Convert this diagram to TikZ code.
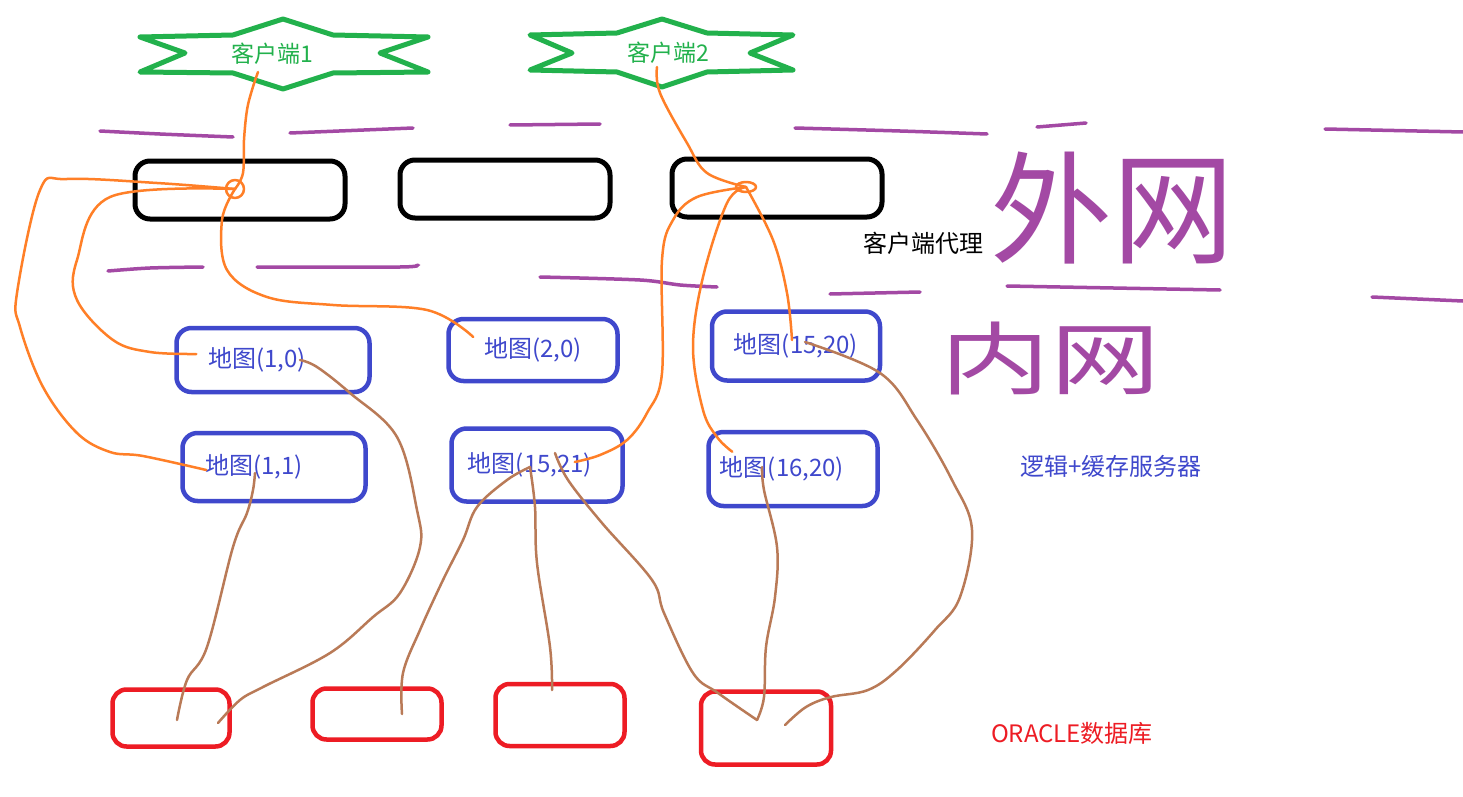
\documentclass[tikz,border=0pt]{standalone}
\usepackage{fontspec}
\setmainfont{Noto Sans CJK SC}
\usepackage{graphicx}
\usepackage{tikz}
\usetikzlibrary{positioning}
\definecolor{SketchGreen}{HTML}{22B14C}
\definecolor{SketchPurple}{HTML}{A349A4}
\definecolor{SketchOrange}{HTML}{FF7F27}
\definecolor{SketchBlue}{HTML}{3F48CC}
\definecolor{SketchRed}{HTML}{ED1C24}
\definecolor{SketchBrown}{HTML}{B97A57}

\begin{document}
\begin{tikzpicture}[
  x=1pt,y=-1pt,
  clientname/.style={text=SketchGreen,font=\fontsize{23}{27}\selectfont,inner sep=2pt},
  starline/.style={draw=SketchGreen,line width=5pt,line join=round},
  proxybox/.style={draw=black,line width=5pt,rounded corners=15pt,minimum width=210pt,minimum height=58pt},
  tile/.style={draw=SketchBlue,line width=4.5pt,rounded corners=15pt,text=SketchBlue,font=\fontsize{24}{28}\selectfont},
  dbbox/.style={draw=SketchRed,line width=4.5pt,rounded corners=14pt},
  note/.style={font=\fontsize{24}{28}\selectfont,inner sep=1pt},
  wire/.style={draw=SketchOrange,line width=2.5pt,line cap=round,line join=round},
  feed/.style={draw=SketchBrown,line width=2.5pt,line cap=round,line join=round},
  divider/.style={draw=SketchPurple,line width=3.5pt,line cap=round}
]
\fill[white] (0,0) rectangle (1463,797);
\useasboundingbox (0,0) rectangle (1463,797);

% clients
\node[clientname] (c1) at (272,54) {客户端1};
\node[clientname] (c2) at (668,53) {客户端2};
\draw[starline] ([xshift=11pt]c1.center) ++(0,-35) -- ++(50,16) -- ++(95,2) -- ++(-48,16) -- ++(48,19) -- ++(-95,1)
  -- ++(-50,16) -- ++(-50,-16) -- ++(-93,-1) -- ++(45,-19) -- ++(-45,-16) -- ++(93,-2) -- cycle;
\draw[starline] ([xshift=-6pt]c2.center) ++(0,-34) -- ++(45,14) -- ++(86,2) -- ++(-43,18) -- ++(43,17) -- ++(-86,2)
  -- ++(-45,15) -- ++(-45,-15) -- ++(-87,-2) -- ++(42,-17) -- ++(-42,-18) -- ++(87,-2) -- cycle;

% network borders
\draw[divider] plot[smooth] coordinates {(100,131) (160,134) (233,137)};
\draw[divider] (290,133) -- (413,128);
\draw[divider] (510,125) -- (600,124);
\draw[divider] plot[smooth] coordinates {(795,128) (900,131) (987,134)};
\draw[divider] (1037,127) -- (1086,123);
\draw[divider] (1325,129) -- (1463,132);
\draw[divider] plot[smooth] coordinates {(108,271) (150,268) (203,267)};
\draw[divider] plot[smooth] coordinates {(257,267) (400,267) (417,265)};
\draw[divider] plot[smooth] coordinates {(540,277) (640,280) (680,285) (717,287)};
\draw[divider] (830,294) -- (920,292);
\draw[divider] (1007,286) -- (1220,290);
\draw[divider] (1372,297) -- (1463,301);
\node[text=SketchPurple,font=\fontsize{122}{122}\selectfont,inner sep=0pt] (outer) at (1112,208) {外网};
\node[text=SketchPurple,font=\fontsize{110}{110}\selectfont,inner sep=0pt] (inner) at (1050,358) {\scalebox{1}[0.72]{内网}};

% client proxies
\node[proxybox] (p1) at (240,190) {};
\node[proxybox] (p2) at (505,189) {};
\node[proxybox] (p3) at (777,188) {};
\node[note] (proxylbl) at (923,243) {客户端代理};

% logic + cache servers
\node[tile,minimum width=193pt,minimum height=64pt] (m10) at (273,360) {地图(1,0)\hspace*{32pt}};
\node[tile,minimum width=169pt,minimum height=62pt] (m20) at (533,350) {地图(2,0)};
\node[tile,minimum width=168pt,minimum height=69pt] (m1520) at (796,346) {地图(15,20)};
\node[tile,minimum width=183pt,minimum height=68pt] (m11) at (274,467) {地图(1,1)\hspace*{40pt}};
\node[tile,minimum width=171pt,minimum height=73pt] (m1521) at (537,465) {地图(15,21)\hspace*{14pt}};
\node[tile,minimum width=169pt,minimum height=74pt] (m1620) at (793,469) {地图(16,20)\hspace*{22pt}};
\node[note,text=SketchBlue] (srvlbl) at (1111,466) {逻辑+缓存服务器};

% databases
\node[dbbox,minimum width=117pt,minimum height=57pt] (d1) at (171,718) {};
\node[dbbox,minimum width=129pt,minimum height=51pt] (d2) at (377,714) {};
\node[dbbox,minimum width=129pt,minimum height=62pt] (d3) at (560,715) {};
\node[dbbox,minimum width=130pt,minimum height=73pt] (d4) at (766,728) {};
\node[note,text=SketchRed] (dblbl) at (1072,733) {ORACLE数据库};

% wire ends
\coordinate (hubA) at (235,189);
\coordinate (hubB) at (746,187);
\coordinate (c1out) at ([xshift=-14pt,yshift=-18pt]c1.center);
\coordinate (c2out) at ([xshift=-11pt,yshift=-14pt]c2.center);
\coordinate (m10in) at ([xshift=22pt,yshift=6pt]m10.west);
\coordinate (m11in) at ([xshift=26pt,yshift=-3pt]m11.west);
\coordinate (m20in) at ([xshift=27pt,yshift=13pt]m20.west);
\coordinate (m1521in) at ([xshift=-50pt,yshift=3pt]m1521.east);
\coordinate (m1620in) at ([xshift=26pt,yshift=-22pt]m1620.north west);
\coordinate (m1520in) at ([xshift=-4pt,yshift=6pt]m1520.center);
\coordinate (m11out) at ([xshift=-19pt,yshift=-6pt]m11.center);
\coordinate (m10out) at ([xshift=27pt]m10.center);
\coordinate (m1521outL) at ([xshift=-7pt,yshift=-2pt]m1521.center);
\coordinate (m1521outR) at ([xshift=18pt,yshift=12pt]m1521.center);
\coordinate (m1620out) at ([xshift=-31pt,yshift=2pt]m1620.center);
\coordinate (m1520out) at ([xshift=9pt,yshift=4pt]m1520.center);
\coordinate (d1inL) at ([xshift=6pt,yshift=-2pt]d1.center);
\coordinate (d1inR) at ([xshift=47pt,yshift=-5pt]d1.center);
\coordinate (d2in) at ([xshift=25pt]d2.center);
\coordinate (d3in) at ([xshift=-8pt,yshift=25pt]d3.center);
\coordinate (d4inL) at ([xshift=-9pt,yshift=8pt]d4.center);
\coordinate (d4inR) at ([xshift=19pt,yshift=3pt]d4.center);

% client 1 routes
\draw[wire] plot[smooth,tension=0.6] coordinates {(c1out) (252,90) (247,110) (244,140) (243,173) (hubA)};
\draw[wire] (hubA) circle[radius=9pt];
\draw[wire] plot[smooth,tension=0.6] coordinates {(hubA) (157,183) (67,179) (40,190) (17,293) (20,327) (43,387) (77,433) (110,452) (143,456) (m11in)};
\draw[wire] plot[smooth,tension=0.6] coordinates {(hubA) (110,197) (77,260) (77,300) (113,340) (150,352) (m10in)};
\draw[wire] plot[smooth,tension=0.6] coordinates {(hubA) (222,220) (227,270) (267,297) (333,305) (427,310) (m20in)};

% client 2 routes
\draw[wire] plot[smooth,tension=0.6] coordinates {(c2out) (660,93) (687,143) (707,173) (hubB)};
\draw[wire] (hubB) ellipse[x radius=10pt,y radius=5pt];
\draw[wire] plot[smooth,tension=0.6] coordinates {(hubB) (697,197) (673,220) (662,260) (662,373) (647,413) (627,440) (600,455) (m1521in)};
\draw[wire] plot[smooth,tension=0.6] coordinates {(hubB) (727,203) (703,277) (693,347) (703,410) (717,437) (m1620in)};
\draw[wire] plot[smooth,tension=0.6] coordinates {(hubB) (773,240) (787,293) (m1520in)};

% database links
\draw[feed] plot[smooth,tension=0.6] coordinates {(m11out) (253,490) (247,513) (233,547) (207,647) (187,680) (d1inL)};
\draw[feed] plot[smooth,tension=0.6] coordinates {(m10out) (317,367) (350,393) (397,437) (417,510) (420,547) (400,593) (373,617) (330,653) (263,687) (240,700) (d1inR)};
\draw[feed] plot[smooth,tension=0.6] coordinates {(m1521outL) (507,480) (477,507) (463,540) (443,580) (420,630) (403,673) (d2in)};
\draw[feed] plot[smooth,tension=0.6] coordinates {(m1521outL) (535,507) (537,563) (550,647) (d3in)};
\draw[feed] plot[smooth,tension=0.6] coordinates {(m1521outR) (568,480) (602,523) (652,580) (664,613) (693,673) (718,693) (d4inL)};
\draw[feed] plot[smooth,tension=0.6] coordinates {(m1620out) (764,490) (777,547) (775,597) (766,647) (764,697) (d4inL)};
\draw[feed] plot[smooth,tension=0.6] coordinates {(m1520out) (880,373) (917,420) (952,480) (972,530) (960,597) (935,630) (897,670) (868,690) (831,697) (806,707) (d4inR)};
\end{tikzpicture}
\end{document}
